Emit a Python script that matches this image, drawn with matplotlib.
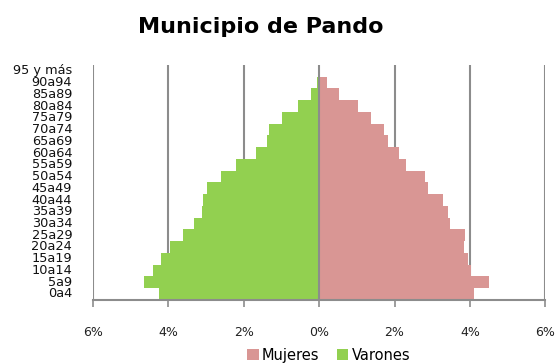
import numpy as np
import matplotlib
matplotlib.use('Agg')
import matplotlib.pyplot as plt
from matplotlib.ticker import FuncFormatter

# age groups, youngest first
grupos = ['0a4', '5a9', '10a14', '15a19', '20a24', '25a29', '30a34', '35a39',
          '40a44', '45a49', '50a54', '55a59', '60a64', '65a69', '70a74',
          '75a79', '80a84', '85a89', '90a94', '95 y más']

# percentage of total population
mujeres = [4.11, 4.50, 4.04, 3.96, 3.85, 3.87, 3.48, 3.42, 3.28, 2.88,
           2.80, 2.31, 2.12, 1.82, 1.73, 1.37, 1.04, 0.53, 0.20, 0.02]
varones = [4.24, 4.66, 4.40, 4.19, 3.96, 3.60, 3.31, 3.11, 3.07, 2.97,
           2.60, 2.21, 1.68, 1.39, 1.32, 0.99, 0.57, 0.22, 0.06, 0.02]

xticks = [-6, -4, -2, 0, 2, 4, 6]

c_muj = '#D99694'
c_var = '#92D050'

fig = plt.figure(figsize=(5.57, 3.63), dpi=100)
ax = fig.add_axes([0.167, 0.174, 0.812, 0.647])

y = np.arange(len(grupos))
ax.barh(y, mujeres, height=1.0, color=c_muj, label='Mujeres', zorder=2)
ax.barh(y, -np.array(varones), height=1.0, color=c_var, label='Varones', zorder=2)

ax.set_xlim(-6, 6)
ax.set_ylim(-0.5, len(grupos) - 0.5)
ax.set_xticks(xticks)
ax.xaxis.set_major_formatter(FuncFormatter(lambda v, p: f'{abs(v):.0f}%'))
ax.set_yticks(y)
ax.set_yticklabels(grupos)

for v in xticks:
    ax.axvline(v, color='#8c8c8c', lw=1.5, zorder=3 if v == 0 else 1)

for s in ['top', 'right', 'left']:
    ax.spines[s].set_visible(False)
ax.spines['bottom'].set_color('#8c8c8c')
ax.spines['bottom'].set_linewidth(1.5)

ax.tick_params(axis='x', direction='out', length=5, width=1.2, color='#8c8c8c',
               pad=14, labelsize=9, labelcolor='#222222')
ax.tick_params(axis='y', length=0, pad=15, labelsize=9.3, labelcolor='#111111')
for t in ax.get_yticklabels():
    t.set_verticalalignment('center')

fig.text(0.469, 0.925, 'Municipio de Pando', ha='center', va='center',
         fontsize=16, fontweight='bold')

fig.legend(loc='lower center', bbox_to_anchor=(0.59, -0.035), ncol=2, frameon=False,
           fontsize=10.5, handlelength=0.8, handleheight=0.8, handletextpad=0.2,
           columnspacing=1.2)

fig.savefig('out.png', dpi=100)
